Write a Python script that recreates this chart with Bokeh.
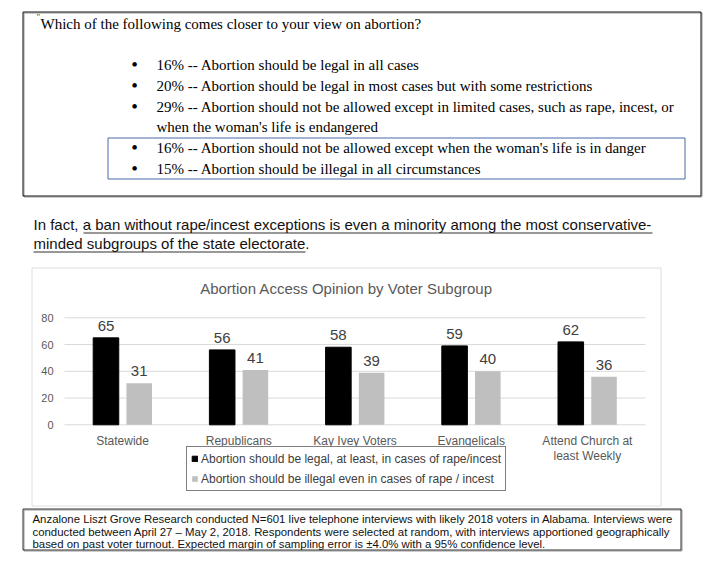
from bokeh.plotting import figure
from bokeh.models import (Range1d, LabelSet, Label, BoxAnnotation,
                          Legend, LegendItem, ColumnDataSource)
from bokeh.core.properties import value
from bokeh.transform import dodge
from bokeh.embed import file_html
from bokeh.resources import INLINE

# ---------------- data ----------------
groups = ["Statewide", "Republicans", "Kay Ivey Voters", "Evangelicals",
          "Attend Church at\nleast Weekly"]
legal = [65, 56, 58, 59, 62]
illegal = [31, 41, 39, 40, 36]
series_names = ["Abortion should be legal, at least, in cases of rape/incest",
                "Abortion should be illegal even in cases of rape / incest"]
y_ticks = [0, 20, 40, 60, 80]
chart_title = "Abortion Access Opinion by Voter Subgroup"

question = "Which of the following comes closer to your view on abortion?"
answer_lines = [
    "16% -- Abortion should be legal in all cases",
    "20% -- Abortion should be legal in most cases but with some restrictions",
    "29% -- Abortion should not be allowed except in limited cases, such as rape, incest, or",
    "when the woman's life is endangered",
    "16% -- Abortion should not be allowed except when the woman's life is in danger",
    "15% -- Abortion should be illegal in all circumstances",
]
answer_bullets = [True, True, True, False, True, True]

para_lines = [
    "In fact, a ban without rape/incest exceptions is even a minority among the most conservative-",
    "minded subgroups of the state electorate.",
]

footnote_lines = [
    "Anzalone Liszt Grove Research conducted N=601 live telephone interviews with likely 2018 voters in Alabama. Interviews were",
    "conducted between April 27 \u2013 May 2, 2018.  Respondents were selected at random, with interviews apportioned geographically",
    "based on past voter turnout. Expected margin of sampling error is \u00b14.0% with a 95% confidence level.",
]

# ---------------- page geometry (picture pixels) ----------------
W, H = 704, 552
PX0, PY0 = 0, 0                   # where the canvas lands in the picture
PLOT_L, PLOT_R = 64, 645          # plot area of the bar chart
ZERO_Y, PX_PER_UNIT = 424.3, 1.3375

SANS = "Liberation Sans"
SERIF = "Liberation Serif"

p = figure(width=W, height=H, x_range=Range1d(PX0, PX0 + W), y_range=Range1d(PY0 + H, PY0),
           output_backend="svg", toolbar_location=None,
           x_axis_location=None, y_axis_location=None,
           min_border=0, min_border_left=0, min_border_right=0,
           min_border_top=0, min_border_bottom=0)
p.outline_line_color = None
p.grid.visible = False
p.background_fill_color = "white"
p.border_fill_color = "white"

# chart coordinate system (category index / value) mapped through extra ranges
n = len(groups)
cw = (PLOT_R - PLOT_L) / n
cat_lo = -0.5 - (PLOT_L - PX0) / cw
cat_hi = n - 0.5 + (PX0 + W - PLOT_R) / cw
val_lo = (ZERO_Y - (PY0 + H)) / PX_PER_UNIT
val_hi = (ZERO_Y - PY0) / PX_PER_UNIT
p.extra_x_ranges = {"cat": Range1d(cat_lo, cat_hi)}
p.extra_y_ranges = {"val": Range1d(val_lo, val_hi)}
R = dict(x_range_name="cat", y_range_name="val")

src = ColumnDataSource(dict(xi=list(range(n)), group=groups, legal=legal, illegal=illegal))
grid_src = ColumnDataSource(dict(y=y_ticks, lab=[str(t) for t in y_ticks],
                                 x0=[-0.5] * len(y_ticks), x1=[n - 0.5] * len(y_ticks)))

# gridlines
p.segment(x0="x0", x1="x1", y0="y", y1="y", source=grid_src, line_color="#d9d9d9",
          line_width=1, **R)
# y tick labels
p.text(x="x0", y="y", text="lab", source=grid_src, x_offset=-11, text_align="right",
       text_baseline="middle", text_font=value(SANS), text_font_size="11px",
       text_color="#595959", **R)
# category labels
cat_src = ColumnDataSource(dict(xi=list(range(n)), y=[0] * n, group=groups))
p.text(x="xi", y="y", text="group", source=cat_src, y_offset=9, text_align="center",
       text_baseline="top", text_font=value(SANS), text_font_size="12px",
       text_color="#595959", text_line_height=1.1, **R)

r1 = p.vbar(x=dodge("xi", -0.143), top="legal", width=0.22, source=src,
            fill_color="black", line_color="black", **R)
r2 = p.vbar(x=dodge("xi", 0.143), top="illegal", width=0.22, source=src,
            fill_color="#bfbfbf", line_color=None, **R)

for col, off in (("legal", -0.143), ("illegal", 0.143)):
    p.add_layout(LabelSet(x=dodge("xi", off), y=col, text=col, source=src,
                          text_align="center", text_baseline="bottom", y_offset=7,
                          text_font=value(SANS), text_font_size="15px",
                          text_color="#404040", **R))

legend = Legend(items=[LegendItem(label=series_names[0], renderers=[r1]),
                       LegendItem(label=series_names[1], renderers=[r2])],
                location=(186 - PX0, PY0 + H - 491), orientation="vertical",
                border_line_color="black", border_line_width=1,
                background_fill_color="white", background_fill_alpha=1,
                padding=4, spacing=5, margin=0,
                glyph_width=7, glyph_height=7, label_standoff=3,
                label_height=15, label_text_font=SANS,
                label_text_font_size="12px", label_text_color="#404040")
p.add_layout(legend)


def box(x0, y0, x1, y1, color, width, fill=None):
    p.add_layout(BoxAnnotation(left=x0, right=x1, top=y0, bottom=y1,
                               fill_color=fill, fill_alpha=1 if fill else 0,
                               line_color=color, line_alpha=1, line_width=width,
                               level="underlay"))


def text(X, Y, s, font, size, color="black", align="left", baseline="middle"):
    p.add_layout(Label(x=X, y=Y, text=s, text_font=font, text_font_size=size,
                       text_color=color, text_align=align, text_baseline=baseline))


# ---- top question box ----
box(23.5, 12.5, 701.5, 196.5, "#9a9a9a", 1)      # soft shadow on right/bottom
box(22.5, 11.5, 700.5, 195.5, "#111111", 1)
box(107.5, 137.5, 684.5, 178.5, "#4668ab", 1)
text(36, 16, "\"", SERIF, "9px", color="#444444")
text(40, 23, question, SERIF, "15px")
line_y = [64, 85, 106, 126, 147, 168]
for s, b, yy in zip(answer_lines, answer_bullets, line_y):
    if b:
        text(134, yy, "\u2022", SERIF, "19px", align="center")
    text(156, yy, s, SERIF, "15px")

# ---- paragraph ----
for s, yy in zip(para_lines, [224, 243]):
    text(33, yy, s, SANS, "15px", color="#111111")
for x0, x1, yy in [(83, 652, 232), (33, 305, 251)]:
    box(x0, yy, x1, yy + 1, None, 0, fill="#333333")

# ---- chart frame box ----
box(31.5, 267.5, 660.5, 505.5, "#dedede", 1)
text(346, 288, chart_title, SANS, "15px", color="#595959", align="center")

# ---- footnote ----
box(23.5, 509.5, 681.5, 550.5, "#9a9a9a", 1)
box(22.5, 508.5, 680.5, 549.5, "#333333", 1)
for s, yy in zip(footnote_lines, [518, 531, 543]):
    text(32, yy, s, SANS, "11.4px", color="#111111")

open("out.html", "w").write(file_html(p, INLINE))
